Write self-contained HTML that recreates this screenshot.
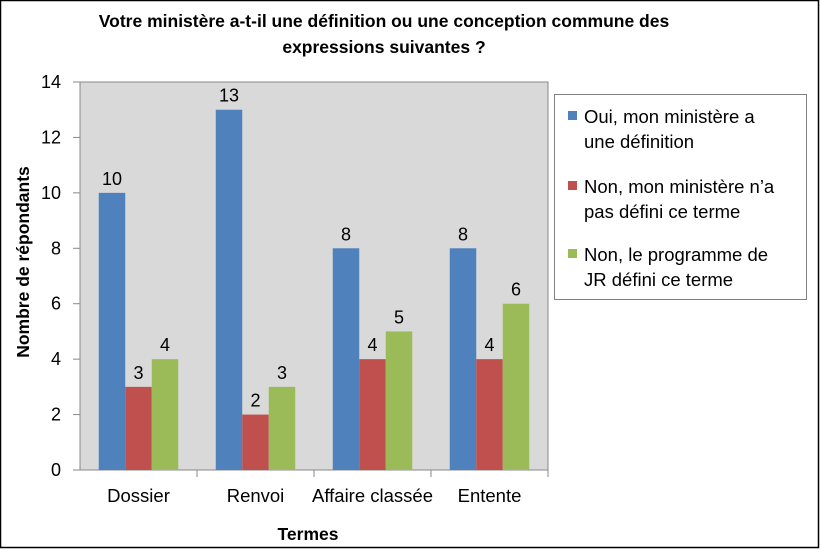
<!DOCTYPE html>
<html><head><meta charset="utf-8"><style>
body{margin:0;background:#fff}
svg{display:block;font-family:"Liberation Sans",sans-serif}
</style></head><body>
<svg id="chart" width="821" height="550">
<rect x="0.5" y="0.5" width="818" height="547" fill="#fff" stroke="#000" stroke-width="1.5"/>
<text x="384" y="27" text-anchor="middle" font-size="17.5" font-weight="bold">Votre ministère a-t-il une définition ou une conception commune des</text>
<text x="384" y="53" text-anchor="middle" font-size="17.5" font-weight="bold">expressions suivantes ?</text>
<rect x="80" y="82" width="468" height="388" fill="#d9d9d9" stroke="#888"/>
<g id="axes"></g>
<g id="bars"></g>
<text transform="translate(29,262) rotate(-90)" text-anchor="middle" font-size="17.5" font-weight="bold">Nombre de répondants</text>
<text x="308" y="540" text-anchor="middle" font-size="17.5" font-weight="bold">Termes</text>
<g>
<rect x="554.5" y="94.5" width="252" height="205" fill="#fff" stroke="#808080"/>
<rect x="568" y="111" width="9" height="9" fill="#4f81bd"/>
<text x="584" y="123" font-size="18.5">Oui, mon ministère a</text>
<text x="584" y="148" font-size="18.5">une définition</text>
<rect x="568" y="181" width="9" height="9" fill="#c0504d"/>
<text x="584" y="193" font-size="18.5">Non, mon ministère n’a</text>
<text x="584" y="218" font-size="18.5">pas défini ce terme</text>
<rect x="568" y="249" width="9" height="9" fill="#9bbb59"/>
<text x="584" y="261" font-size="18.5">Non, le programme de</text>
<text x="584" y="286" font-size="18.5">JR défini ce terme</text>
</g>
</svg>
<script>
const categories=["Dossier","Renvoi","Affaire classée","Entente"];
const oui=[10,13,8,8];
const non=[3,2,4,4];
const jr=[4,3,5,6];
const yTicks=[0,2,4,6,8,10,12,14];
const NS="http://www.w3.org/2000/svg";
const X0=80,X1=548,Y0=470,Y1=82,YMAX=14;
const y=v=>Y0-(v/YMAX)*(Y0-Y1);
const gw=(X1-X0)/categories.length,bw=26.5,pad=(gw-3*bw)/2;
const x=(i,s)=>X0+i*gw+pad+s*bw;
function mk(tag,at,txt){const e=document.createElementNS(NS,tag);for(const k in at)e.setAttribute(k,at[k]);if(txt!==undefined)e.textContent=txt;return e;}
const ax=document.getElementById('axes'),bg=document.getElementById('bars');
yTicks.forEach(t=>{
 const l=mk('line',{x1:73,x2:80,y1:y(t),y2:y(t),stroke:'#888'});
 
 
 ax.appendChild(l);
 const tx=mk('text',{x:61,y:y(t)+6,'text-anchor':'end','font-size':18},t);
 
 
 ax.appendChild(tx);
});
categories.forEach((c,i)=>{
 const tx=mk('text',{x:X0+i*gw+gw/2,y:502,'text-anchor':'middle','font-size':18.5},c);
 
 
 ax.appendChild(tx);
 const tk=mk('line',{x1:X0+(i+1)*gw,x2:X0+(i+1)*gw,y1:470,y2:477,stroke:'#888'});
 
 
 ax.appendChild(tk);
});
[[oui,'#4f81bd','oui'],[non,'#c0504d','non'],[jr,'#9bbb59','jr']].forEach(([arr,col,nm],s)=>{
 arr.forEach((v,i)=>{
  const r=mk('rect',{x:x(i,s),y:y(v),width:bw,height:Y0-y(v),fill:col});
  
  
  bg.appendChild(r);
  const t=mk('text',{x:x(i,s)+bw/2,y:y(v)-8,'text-anchor':'middle','font-size':18},v);
  
  
  bg.appendChild(t);
 });
});
</script>
</body></html>
